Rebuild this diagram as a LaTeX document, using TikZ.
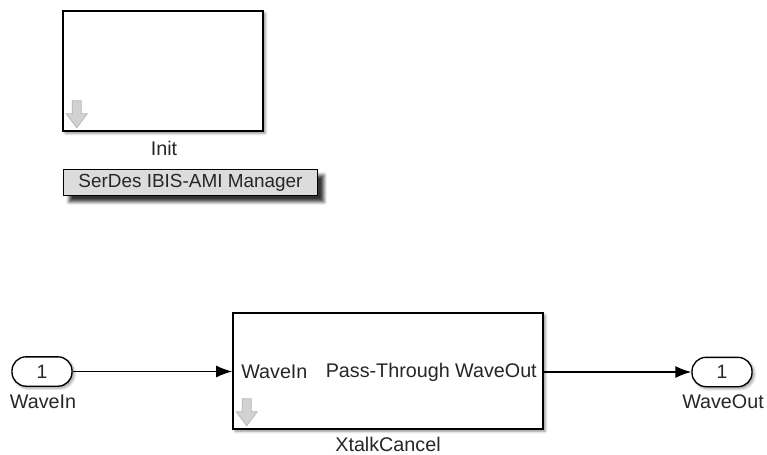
\documentclass[tikz,border=0pt]{standalone}
\usepackage{fontspec}
\setmainfont{Liberation Sans}
\usetikzlibrary{shadows.blur,arrows.meta}
\definecolor{icongray}{HTML}{D2D2D2}
\definecolor{iconedge}{HTML}{B4B4B4}
\definecolor{mgrgray}{HTML}{DCDCDC}
\definecolor{txt}{HTML}{262626}
\tikzset{
  blockbox/.style={draw=black, line width=1.2pt, fill=white, inner sep=0pt,
    blur shadow={shadow xshift=1.6pt, shadow yshift=-1.6pt, shadow blur radius=2pt, shadow opacity=45}},
  portbox/.style={draw=black, line width=1pt, fill=white, rounded corners=10.5pt, inner sep=0pt,
    minimum width=45pt, minimum height=22pt, font=\fontsize{14.5}{16}\selectfont, text=txt,
    blur shadow={shadow xshift=1.5pt, shadow yshift=-1.5pt, shadow blur radius=2pt, shadow opacity=40}},
  lbl/.style={font=\fontsize{14.8}{16}\selectfont, text=txt, inner sep=0pt},
  sig/.style={line width=1pt, -{Latex[length=12pt,width=9pt]}},
  downicon/.pic={
    \fill[icongray, draw=iconedge, line width=0.5pt]
      (10,-31) -- (19,-31) -- (19,-18) -- (25,-18) -- (14.5,-4) -- (4,-18) -- (10,-18) -- cycle;
  }
}
\begin{document}
\begin{tikzpicture}[x=0.75pt,y=-0.75pt]
\useasboundingbox (0,0) rectangle (767,454);

% Init subsystem
\node[blockbox, minimum width=150pt, minimum height=90pt] (init) at (163,71) {};
\pic at (init.south west) {downicon};
\node[lbl] (initlbl) at (164,148) {Init};

% SerDes IBIS-AMI Manager
\node[draw=black, line width=0.9pt, fill=mgrgray, inner sep=0pt,
  minimum width=191pt, minimum height=20pt, font=\fontsize{14.2}{15}\selectfont, text=txt,
  blur shadow={shadow xshift=4.5pt, shadow yshift=-4.5pt, shadow blur radius=2.5pt, shadow opacity=80}]
  (mgr) at (190.5,182.5) {SerDes IBIS-AMI Manager};

% Inport
\node[portbox] (inport) at (42,371.5) {1};
\node[lbl] (inlbl) at (43,402) {WaveIn};

% XtalkCancel
\node[blockbox, minimum width=232.5pt, minimum height=87pt] (xtalk) at (388,371) {};
\pic at (xtalk.south west) {downicon};
\node[lbl, anchor=west] (xin) at (241,372) {WaveIn};
\node[lbl, anchor=east] (xout) at (537,372) {Pass-Through WaveOut};
\node[lbl] (xlbl) at (388,444) {XtalkCancel};

% Outport
\node[portbox] (outport) at (722,372) {1};
\node[lbl] (outlbl) at (723,402) {WaveOut};

% Signals
\draw[sig] (inport.east) -- (inport.east -| xtalk.west);
\draw[sig] (xtalk.east |- outport.west) -- (outport.west);
\end{tikzpicture}
\end{document}
